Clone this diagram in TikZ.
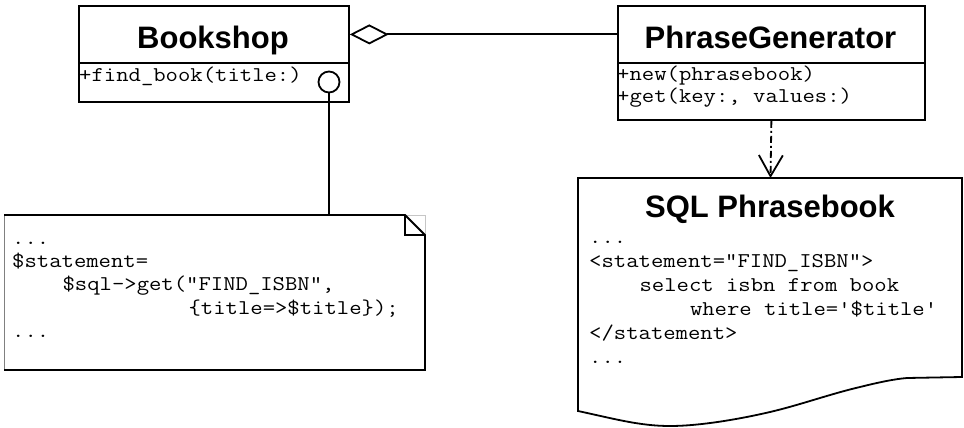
\documentclass[tikz,border=0pt]{standalone}
\usepackage{fontspec}
\setmainfont{Liberation Sans}
\setmonofont{Latin Modern Mono}[FakeStretch=1.143]
\usetikzlibrary{arrows.meta}
\begin{document}
\begin{tikzpicture}[x=1pt,y=-1pt,line join=miter,
  box/.style={draw,line width=1.8pt,rectangle,inner sep=0pt,anchor=north west},
  title/.style={font=\bfseries\fontsize{31}{31}\selectfont,anchor=base,inner sep=0pt},
  code/.style={font=\ttfamily\fontsize{21}{#1}\selectfont,anchor=north west,inner sep=0pt,align=left},
  code/.default=23.5,
  link/.style={line width=1.8pt},
  outline/.style={line width=1.8pt}]
\useasboundingbox (0,0) rectangle (964,428);

% Bookshop class
\node[box,minimum width=270pt,minimum height=57pt] (bsHead) at (78,5) {};
\node[box,minimum width=270pt,minimum height=39pt] (bsOps) at (78,62) {};
\node[title] (bsName) at (213,49) {Bookshop};
\node[code=22] (bsText) at (79,65.6) {\strut+find\_book(title:)};
\node[draw,circle,line width=1.8pt,minimum size=21pt,inner sep=0pt] (iface) at (329,82) {};

% PhraseGenerator class
\node[box,minimum width=307pt,minimum height=57pt] (pgHead) at (617,5) {};
\node[box,minimum width=307pt,minimum height=57pt] (pgOps) at (617,62) {};
\node[title] (pgName) at (770.5,49) {PhraseGenerator};
\node[code=22] (pgText) at (617,64.6) {\strut+new(phrasebook)\\\strut+get(key:, values:)};

% aggregation
\draw[link,{Diamond[open,length=39pt,width=20pt]}-] (bsHead.east) -- (pgHead.west);

% note attached to find_book
\fill[white] (4,215) -- (405,215) -- (425,235) -- (425,370) -- (4,370) -- cycle;
\draw[gray!45,line width=0.8pt] (405,215) -- (425,215) -- (425,235);
\draw[gray,line width=1pt] (4,215) -- (4,370);
\draw[outline] (4,215) -- (405,215) -- (425,235) -- (425,370) -- (4,370);
\draw[line width=1.2pt] (405,215) -- (405,235) -- (425,235);
\coordinate (noteTop) at (329,215);
\node[code=23.4] (noteText) at (12,227.6) {\strut...\\
\strut\$statement=\\
\strut\hspace*{2.4em}\$sql->get("FIND\_ISBN",\\
\strut\hspace*{8.4em}\{title=>\$title\});\\
\strut...};
\draw[link] (iface.south) -- (noteTop);

% SQL phrasebook document
\draw[outline] (578,178) -- (962,178) -- (962,377) -- (907,378)
  .. controls (895,379) and (880,382) .. (860,387)
  .. controls (830,394) and (800,405) .. (770,412)
  .. controls (740,419) and (700,426) .. (670,426)
  .. controls (640,426) and (615,419) .. (578,411) -- cycle;
\coordinate (sqlTop) at (770.5,178);
\node[title] (sqlName) at (770,217) {SQL Phrasebook};
\node[code=24] (sqlText) at (589,226.7) {\strut...\\
\strut<statement="FIND\_ISBN">\\
\strut\hspace*{2.4em}select isbn from book\\
\strut\hspace*{4.8em}where title='\$title'\\
\strut</statement>\\
\strut...};

% dependency
\draw[link,dash pattern=on 7pt off 3pt on 2pt off 3pt,
  -{Straight Barb[length=21pt,width=24pt]}] (pgOps.south) -- (sqlTop);
\end{tikzpicture}
\end{document}
